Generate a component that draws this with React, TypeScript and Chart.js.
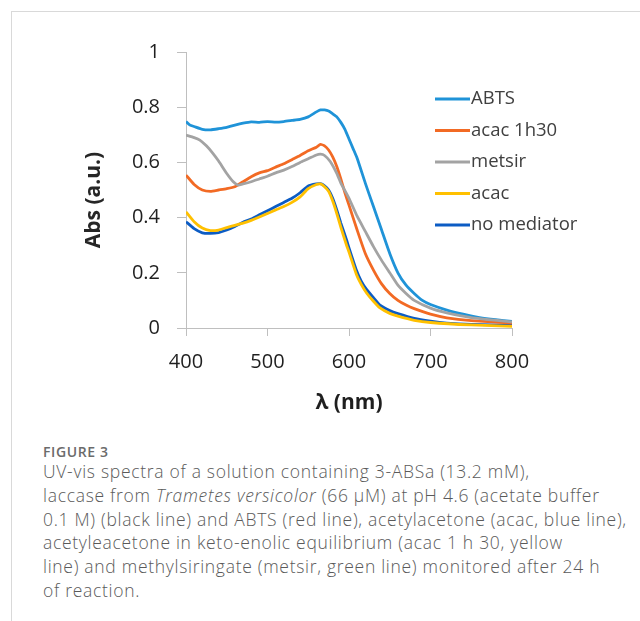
import React, { useEffect, useRef } from "react";
import { Chart, registerables } from "chart.js";

Chart.register(...registerables);

// ---- data ----
const seriesNames = ["ABTS", "acac 1h30", "metsir", "acac", "no mediator"];
const seriesColors = ["#1f93d8", "#f26a24", "#a3a3a3", "#ffc000", "#0c5cc4"];

const abtsX = [400, 405, 410, 420, 430, 440, 450, 460, 470, 480, 490, 500, 510, 520, 530, 540, 550, 560, 565, 570, 575, 580, 585, 590, 595, 600, 605, 610, 620, 630, 640, 650, 660, 670, 680, 690, 700, 720, 740, 760, 780, 800];
const abtsY = [0.748, 0.735, 0.73, 0.72, 0.718, 0.722, 0.727, 0.735, 0.742, 0.747, 0.745, 0.748, 0.746, 0.748, 0.752, 0.756, 0.765, 0.783, 0.79, 0.79, 0.786, 0.776, 0.765, 0.745, 0.72, 0.685, 0.65, 0.615, 0.525, 0.44, 0.355, 0.27, 0.2, 0.155, 0.125, 0.1, 0.085, 0.065, 0.05, 0.038, 0.03, 0.024];

const acac130X = [400, 410, 420, 430, 440, 450, 460, 470, 480, 490, 500, 510, 520, 530, 540, 550, 560, 565, 570, 575, 580, 585, 590, 595, 600, 610, 620, 630, 640, 650, 660, 670, 680, 700, 720, 750, 800];
const acac130Y = [0.554, 0.52, 0.5, 0.495, 0.5, 0.505, 0.512, 0.53, 0.548, 0.562, 0.57, 0.583, 0.595, 0.61, 0.625, 0.642, 0.655, 0.665, 0.66, 0.645, 0.62, 0.585, 0.54, 0.49, 0.445, 0.355, 0.27, 0.21, 0.16, 0.125, 0.1, 0.083, 0.07, 0.05, 0.037, 0.027, 0.018];

const metsirX = [400, 410, 417, 425, 433, 440, 450, 458, 464, 470, 480, 490, 500, 510, 520, 530, 540, 550, 560, 565, 570, 577, 585, 590, 600, 610, 620, 630, 640, 650, 660, 670, 680, 700, 720, 750, 800];
const metsirY = [0.699, 0.69, 0.681, 0.66, 0.633, 0.605, 0.56, 0.53, 0.518, 0.522, 0.53, 0.54, 0.55, 0.562, 0.572, 0.585, 0.6, 0.613, 0.627, 0.63, 0.625, 0.603, 0.56, 0.525, 0.47, 0.405, 0.35, 0.295, 0.245, 0.2, 0.155, 0.125, 0.1, 0.072, 0.055, 0.038, 0.022];

const acacX = [400, 410, 420, 430, 440, 450, 460, 470, 480, 490, 500, 510, 520, 530, 540, 550, 560, 565, 570, 575, 580, 585, 590, 597, 600, 609, 615, 622, 630, 638, 650, 660, 680, 700, 750, 800];
const acacY = [0.421, 0.385, 0.362, 0.353, 0.355, 0.364, 0.372, 0.38, 0.39, 0.402, 0.415, 0.428, 0.44, 0.455, 0.475, 0.505, 0.52, 0.522, 0.512, 0.495, 0.46, 0.415, 0.365, 0.3, 0.275, 0.195, 0.158, 0.125, 0.097, 0.073, 0.053, 0.043, 0.028, 0.02, 0.011, 0.006];

const noMedX = [400, 410, 420, 430, 440, 450, 460, 470, 480, 490, 500, 510, 520, 530, 540, 550, 560, 565, 570, 575, 580, 585, 590, 597, 600, 609, 615, 622, 630, 638, 650, 660, 680, 700, 720, 750, 800];
const noMedY = [0.385, 0.36, 0.345, 0.343, 0.346, 0.355, 0.368, 0.383, 0.395, 0.41, 0.425, 0.44, 0.455, 0.47, 0.49, 0.515, 0.522, 0.523, 0.515, 0.5, 0.47, 0.428, 0.38, 0.319, 0.29, 0.21, 0.17, 0.138, 0.11, 0.083, 0.063, 0.052, 0.035, 0.025, 0.018, 0.013, 0.01];

const seriesX = [abtsX, acac130X, metsirX, acacX, noMedX];
const seriesY = [abtsY, acac130Y, metsirY, acacY, noMedY];

const xTicks = [400, 500, 600, 700, 800];
const yTicks = [0, 0.2, 0.4, 0.6, 0.8, 1];
const xTitle = "λ (nm)";
const yTitle = "Abs (a.u.)";

const captionHead = "FIGURE 3";

const FONT = "'Open Sans', sans-serif";
const tickFont = { family: FONT, size: 20 };
const titleFont = { family: FONT, size: 21, weight: "bold" as const };

const overlayPlugin = {
  id: "overlay",
  afterDatasetsDraw(chart: any) {
    const { ctx, chartArea } = chart;
    ctx.save();
    // legend inside the plot area
    ctx.font = "18.5px " + FONT;
    ctx.textBaseline = "middle";
    ctx.textAlign = "left";
    seriesNames.forEach((name, i) => {
      const y = chartArea.top + 47 + i * 31.5;
      const x0 = chartArea.left + 249;
      ctx.strokeStyle = seriesColors[i];
      ctx.lineWidth = 2.8;
      ctx.beginPath();
      ctx.moveTo(x0, y);
      ctx.lineTo(x0 + 35, y);
      ctx.stroke();
      ctx.fillStyle = "#404040";
      ctx.fillText(name, x0 + 36, y);
    });
    // y-axis title
    ctx.translate(chartArea.left - 92, chartArea.top + 148);
    ctx.rotate(-Math.PI / 2);
    ctx.font = "bold 21px " + FONT;
    ctx.textAlign = "center";
    ctx.fillStyle = "#262626";
    ctx.fillText(yTitle, 0, 0);
    ctx.restore();
  },
};

export default function App() {
  const ref = useRef<HTMLCanvasElement | null>(null);

  useEffect(() => {
    document.body.style.margin = "0";
    const canvas = ref.current;
    if (!canvas) return;
    const datasets = seriesNames.map((name, i) => ({
      label: name,
      data: seriesX[i].map((x, j) => ({ x, y: seriesY[i][j] })),
      borderColor: seriesColors[i],
      backgroundColor: seriesColors[i],
      borderWidth: 2.8,
      pointRadius: 0,
      tension: 0.15,
      fill: false,
    }));
    // draw order: dark blue sits on top of yellow
    const order = [2, 0, 1, 3, 4];
    const chart = new Chart(canvas, {
      type: "line",
      data: { datasets: order.map((k) => datasets[k]) },
      options: {
        animation: false,
        responsive: false,
        layout: { padding: { left: 84, right: 128, top: 52, bottom: 14 } },
        plugins: { legend: { display: false }, tooltip: { enabled: false } },
        scales: {
          x: {
            type: "linear",
            min: 400,
            max: 800,
            afterBuildTicks: (s: any) => {
              s.ticks = xTicks.map((v) => ({ value: v }));
            },
            afterFit: (s: any) => {
              s.height = 88;
            },
            ticks: { font: tickFont, color: "#1f1f1f", padding: 14, maxRotation: 0 },
            grid: { drawOnChartArea: false, drawTicks: true, tickLength: 8, color: "#bfbfbf" },
            border: { display: true, color: "#bfbfbf" },
            title: { display: true, text: xTitle, font: titleFont, color: "#1f1f1f", padding: 0 },
          },
          y: {
            type: "linear",
            min: 0,
            max: 1,
            afterBuildTicks: (s: any) => {
              s.ticks = yTicks.map((v) => ({ value: v }));
            },
            afterFit: (s: any) => {
              s.width = 102;
            },
            ticks: {
              font: tickFont,
              color: "#1f1f1f",
              padding: 17,
              callback: (v: any) => String(Math.round(Number(v) * 10) / 10),
            },
            grid: { drawOnChartArea: false, drawTicks: true, tickLength: 9, color: "#bfbfbf" },
            border: { display: true, color: "#bfbfbf" },
          },
        },
      },
      plugins: [overlayPlugin],
    });
    return () => chart.destroy();
  }, []);

  return (
    <div style={{ position: "relative", width: 640, height: 621, overflow: "hidden", background: "#fff" }}>
      <div
        style={{
          position: "absolute",
          left: 11,
          top: 11,
          width: 700,
          height: 700,
          borderTop: "1px solid #d9d9d9",
          borderLeft: "1px solid #d9d9d9",
        }}
      />
      <canvas ref={ref} width={640} height={430} style={{ position: "absolute", left: 0, top: 0 }} />
      <div
        style={{
          position: "absolute",
          left: 43,
          top: 443,
          fontFamily: FONT,
          fontSize: 14,
          lineHeight: "17px",
          fontWeight: 600,
          letterSpacing: "0.6px",
          color: "#6b6b6b",
          whiteSpace: "nowrap",
        }}
      >
        {captionHead}
      </div>
      <div
        style={{
          position: "absolute",
          left: 43,
          top: 460,
          fontFamily: FONT,
          fontSize: 17.5,
          fontWeight: 300,
          lineHeight: "23.8px",
          letterSpacing: "0.7px",
          color: "#5a5a5a",
          whiteSpace: "nowrap",
        }}
      >
        UV-vis spectra of a solution containing 3-ABSa (13.2 mM),
        <br />
        laccase from <i>Trametes versicolor</i> (66 µM) at pH 4.6 (acetate buffer
        <br />
        0.1 M) (black line) and ABTS (red line), acetylacetone (acac, blue line),
        <br />
        acetyleacetone in keto-enolic equilibrium (acac 1 h 30, yellow
        <br />
        line) and methylsiringate (metsir, green line) monitored after 24 h
        <br />
        of reaction.
      </div>
    </div>
  );
}
